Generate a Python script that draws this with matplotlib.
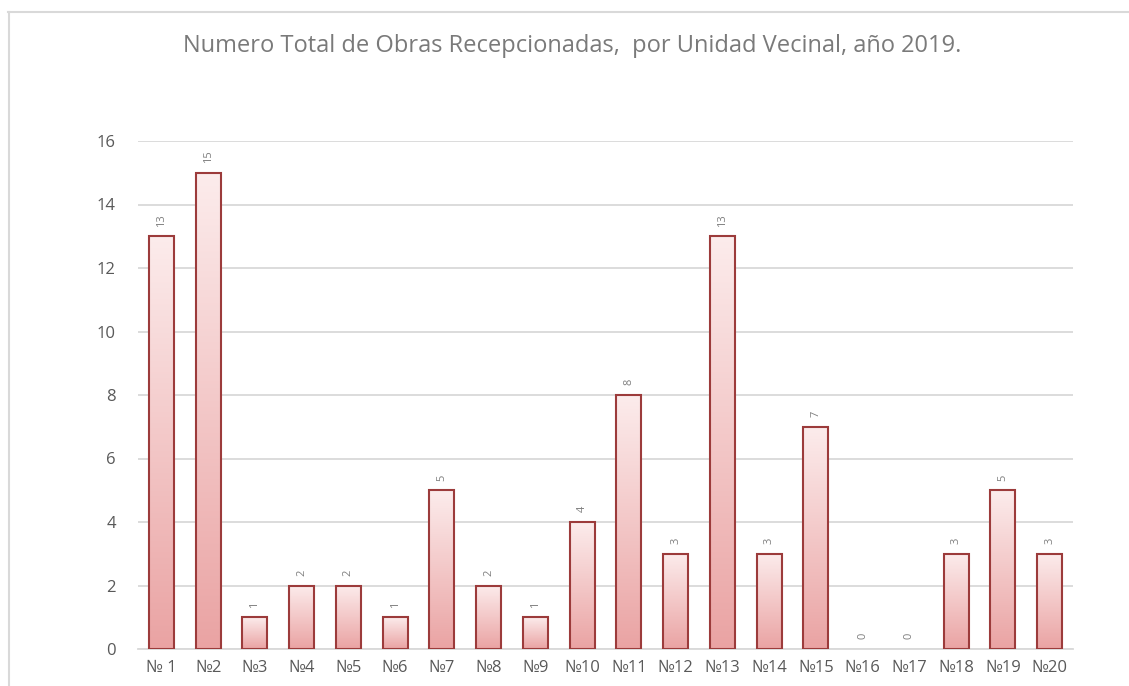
import numpy as np
import matplotlib.pyplot as plt
from matplotlib.colors import LinearSegmentedColormap
from matplotlib.lines import Line2D

## data
labels = ['№ 1', '№2', '№3', '№4', '№5', '№6', '№7', '№8', '№9', '№10',
          '№11', '№12', '№13', '№14', '№15', '№16', '№17', '№18', '№19', '№20']
values = [13, 15, 1, 2, 2, 1, 5, 2, 1, 4, 8, 3, 13, 3, 7, 0, 0, 3, 5, 3]
title = 'Numero Total de Obras Recepcionadas,  por Unidad Vecinal, año 2019.'

plt.rcParams['font.family'] = ['Open Sans', 'DejaVu Sans']
gray = '#7f7f7f'

fig = plt.figure(figsize=(11.29, 6.86), dpi=100)
ax = fig.add_axes([138 / 1129, 37 / 686, 935 / 1129, 508 / 686])

# outer chart frame (cut off at right and bottom)
fig.add_artist(Line2D([8.5 / 1129, 8.5 / 1129], [0, 1 - 12 / 686], color='#d9d9d9', lw=1.5))
fig.add_artist(Line2D([8 / 1129, 1], [1 - 12 / 686, 1 - 12 / 686], color='#d9d9d9', lw=1.5))

x = np.arange(len(values))
width = 0.54
cmap = LinearSegmentedColormap.from_list('pinkgrad', ['#eaa3a3', '#fcecec'])
grad = np.linspace(0, 1, 256).reshape(-1, 1)

bars = ax.bar(x, values, width=width, facecolor='none', edgecolor='#9c3b3b',
              linewidth=1.5, zorder=3)
for b, v in zip(bars, values):
    ax.annotate(str(v), (b.get_x() + b.get_width() / 2, v), xytext=(0, 7),
                textcoords='offset points', rotation=90, ha='center', va='bottom',
                fontsize=8, color=gray)
    if v <= 0:
        b.set_edgecolor('none')
        continue
    im = ax.imshow(grad, cmap=cmap, origin='lower', aspect='auto',
                   extent=[b.get_x(), b.get_x() + b.get_width(), 0, v], zorder=2)
    im.set_clip_path(b)

ax.set_xlim(-0.5, len(values) - 0.5)
ax.set_ylim(0, 16)
ax.set_yticks(range(0, 17, 2))
ax.set_xticks(x)
ax.set_xticklabels(labels)
ax.tick_params(axis='both', length=0, labelsize=12, colors='#595959', pad=8)
ax.tick_params(axis='y', pad=16)
ax.yaxis.grid(True, color='#d9d9d9', lw=1.3, zorder=0)
ax.set_axisbelow(True)
for s in ['top', 'right', 'left']:
    ax.spines[s].set_visible(False)
ax.spines['bottom'].set_color('#d9d9d9')
ax.spines['bottom'].set_linewidth(1.3)

fig.text(572 / 1129, 1 - 46 / 686, title, ha='center', va='center',
         fontsize=17, color='#7a7a7a')

plt.savefig('out.png', dpi=100)
